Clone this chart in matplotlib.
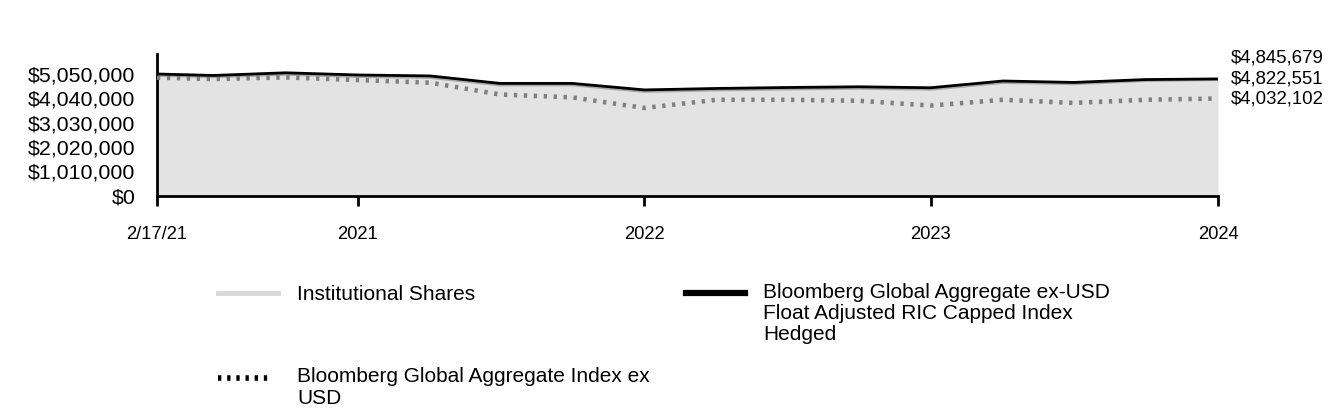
import matplotlib
matplotlib.use("Agg")
import matplotlib.pyplot as plt
import matplotlib.dates as mdates
from matplotlib.lines import Line2D
from matplotlib.ticker import FuncFormatter, FixedLocator
import numpy as np
import pandas as pd

plt.rcParams['font.family'] = ['Liberation Sans', 'DejaVu Sans']

dates = ["2021-02-17", "2021-04-30", "2021-07-31", "2021-10-31", "2022-01-31",
         "2022-04-30", "2022-07-31", "2022-10-31", "2023-01-31", "2023-04-30",
         "2023-07-31", "2023-10-31", "2024-01-31", "2024-04-30", "2024-07-31",
         "2024-10-31"]
institutional = [5000000, 4940000, 5040000, 4950000, 4910000, 4600000, 4600000,
                 4330000, 4390000, 4430000, 4460000, 4420000, 4700000, 4650000,
                 4780000, 4822551]
hedged_index = [5050000, 4990000, 5100000, 5010000, 4970000, 4660000, 4660000,
                4390000, 4450000, 4490000, 4520000, 4480000, 4760000, 4700000,
                4820000, 4845679]
agg_ex_usd = [4900000, 4840000, 4910000, 4800000, 4690000, 4200000, 4080000,
              3640000, 3980000, 3980000, 3940000, 3740000, 3980000, 3850000,
              3980000, 4032102]

end_labels = ["$4,845,679", "$4,822,551", "$4,032,102"]
tick_dates = ["2021-02-17", "2021-10-31", "2022-10-31", "2023-10-31", "2024-10-31"]
tick_labels = ["2/17/21", "2021", "2022", "2023", "2024"]
y_ticks = [0, 1010000, 2020000, 3030000, 4040000, 5050000]
series_names = ["Institutional Shares",
                "Bloomberg Global Aggregate ex-USD\nFloat Adjusted RIC Capped Index\nHedged",
                "Bloomberg Global Aggregate Index ex\nUSD"]

x = pd.to_datetime(dates)

fig = plt.figure(figsize=(13.44, 4.2), dpi=100)
ax = fig.add_axes([157/1344, 1-195.7/420, (1218-157)/1344, (195.7-54)/420])

ax.fill_between(x, 0, institutional, color="#e3e3e3", lw=0, zorder=1)
ax.plot(x, institutional, color="#a8a8a8", lw=2.2, zorder=2, solid_capstyle="butt")
ax.plot(x, agg_ex_usd, color="#7f7f7f", lw=3.3, linestyle=(0, (0.72, 1.45)), zorder=3,
        dash_capstyle="butt")
ax.plot(x, hedged_index, color="#000000", lw=2.0, zorder=4)

ax.set_xlim(x[0], x[-1])
ax.set_ylim(0, 5880000)

ax.xaxis.set_major_locator(FixedLocator(mdates.date2num(pd.to_datetime(tick_dates))))
ax.set_xticklabels(tick_labels)
ax.set_yticks(y_ticks)
ax.yaxis.set_major_formatter(FuncFormatter(lambda v, p: "${:,.0f}".format(v)))

for s in ["top", "right"]:
    ax.spines[s].set_visible(False)
for s in ["left", "bottom"]:
    ax.spines[s].set_linewidth(2.0)
ax.tick_params(axis="y", length=0, labelsize=15.4, pad=15.5)
ax.tick_params(axis="x", length=7, width=2, labelsize=13.2, pad=15, direction="out")

# end labels
trans = ax.get_yaxis_transform()
offsets = [21, 0, 0]
ends = [hedged_index[-1], institutional[-1], agg_ex_usd[-1]]
for lbl, val, off in zip(end_labels, ends, offsets):
    ax.annotate(lbl, xy=(1, val), xycoords=trans, xytext=(13, off),
                textcoords="offset pixels", ha="left", va="center", fontsize=13.4)

# legend drawn manually
def fx(px):
    return px / 1344
def fy(py):
    return 1 - py / 420

fig.add_artist(Line2D([fx(218), fx(278)], [fy(293), fy(293)], color="#d9d9d9", lw=3.5))
fig.text(fx(297), fy(294), series_names[0], fontsize=15, va="center", ha="left")
fig.add_artist(Line2D([fx(686), fx(745)], [fy(293), fy(293)], color="#000000", lw=4.5))
fig.text(fx(763), fy(294) + 0.5 * 23 / 420, series_names[1], fontsize=15, va="top", ha="left",
         linespacing=1.15)
fig.add_artist(Line2D([fx(218), fx(272)], [fy(378), fy(378)], color="#000000", lw=4.0,
                      linestyle=(0, (0.6, 1.05)), dash_capstyle="butt"))
fig.text(fx(297), fy(379) + 0.5 * 23 / 420, series_names[2], fontsize=15, va="top", ha="left",
         linespacing=1.15)

fig.savefig("out.png", dpi=100)
